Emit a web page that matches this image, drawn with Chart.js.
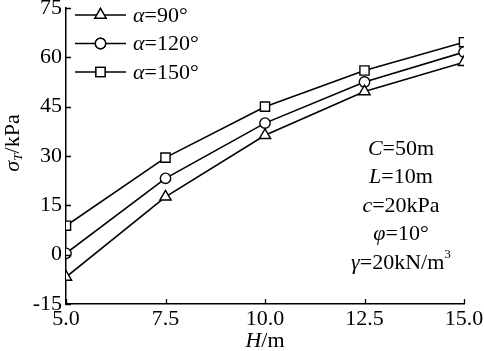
<!DOCTYPE html>
<html>
<head>
<meta charset="utf-8">
<script src="https://cdn.jsdelivr.net/npm/chart.js@4/dist/chart.umd.min.js"></script>
<style>
  html, body { margin: 0; padding: 0; background: #fff; }
  #wrap { width: 484px; height: 351px; position: relative; }
</style>
</head>
<body>
<div id="wrap"><canvas id="chart"></canvas></div>
<script>
const heights = [5.0, 7.5, 10.0, 12.5, 15.0];
const alpha90 = [-6.8, 17.6, 36.3, 49.6, 58.5];
const alpha120 = [0.4, 23.2, 40.0, 52.5, 61.6];
const alpha150 = [8.8, 29.5, 45.0, 56.0, 64.6];
const seriesNames = ['90°', '120°', '150°'];
const xTicks = [5.0, 7.5, 10.0, 12.5, 15.0];
const yTicks = [-15, 0, 15, 30, 45, 60, 75];
const notes = [
    ['C', '=50m'],
    ['L', '=10m'],
    ['c', '=20kPa'],
    ['φ', '=10°'],
    ['γ', '=20kN/m', '3']
];

const SERIF = '"Liberation Serif", "Times New Roman", serif';
const FS = 22;

function points(values) {
    return heights.map((h, i) => ({ x: h, y: values[i] }));
}

function makeSet(values, style, radius) {
    return {
        data: points(values),
        borderColor: '#000',
        borderWidth: 1.6,
        pointStyle: style,
        pointRadius: radius,
        pointBorderWidth: 1.4,
        pointBorderColor: '#000',
        pointBackgroundColor: '#fff',
        fill: false,
        tension: 0
    };
}

// draws the text pieces one after another, italic ones in italic
function drawParts(ctx, parts, x, y, size) {
    parts.forEach(p => {
        let fs = p.small ? size * 0.6 : size;
        ctx.font = (p.it ? 'italic ' : '') + fs + 'px ' + SERIF;
        let dy = p.sup ? -size * 0.38 : (p.sub ? size * 0.25 : 0);
        ctx.fillText(p.t, x, y + dy);
        x += ctx.measureText(p.t).width;
    });
}

function partsWidth(ctx, parts, size) {
    let w = 0;
    parts.forEach(p => {
        let fs = p.small ? size * 0.6 : size;
        ctx.font = (p.it ? 'italic ' : '') + fs + 'px ' + SERIF;
        w += ctx.measureText(p.t).width;
    });
    return w;
}

const extras = {
    id: 'extras',
    afterDraw(chart) {
        const ctx = chart.ctx;
        const xs = chart.scales.x;
        const ys = chart.scales.y;
        const area = chart.chartArea;
        ctx.save();
        ctx.strokeStyle = '#000';
        ctx.lineWidth = 1.3;

        // inward ticks
        ctx.beginPath();
        xTicks.forEach(v => {
            const px = Math.round(xs.getPixelForValue(v)) + 0.5;
            ctx.moveTo(px, area.bottom);
            ctx.lineTo(px, area.bottom - 5);
        });
        yTicks.forEach(v => {
            const py = Math.round(ys.getPixelForValue(v)) + 0.5;
            ctx.moveTo(area.left, py);
            ctx.lineTo(area.left + 5, py);
        });
        ctx.stroke();

        ctx.fillStyle = '#000';
        ctx.textBaseline = 'middle';
        ctx.textAlign = 'left';

        // legend
        const sets = chart.data.datasets;
        sets.forEach((ds, i) => {
            const y = 15 + i * 28.5;
            ctx.lineWidth = 1.6;
            ctx.beginPath();
            ctx.moveTo(75, y);
            ctx.lineTo(126, y);
            ctx.stroke();
            ctx.lineWidth = 1.4;
            Chart.helpers.drawPoint(ctx, {
                pointStyle: ds.pointStyle,
                radius: ds.pointRadius,
                rotation: 0,
                borderWidth: 1.4
            }, 100.5, y);
            ctx.fillStyle = '#fff';
            ctx.fill();
            ctx.stroke();
            ctx.fillStyle = '#000';
            drawParts(ctx, [{ t: 'α', it: true }, { t: '=' + seriesNames[i] }], 133, y + 1, FS);
        });

        // parameter notes
        notes.forEach((n, i) => {
            const parts = [{ t: n[0], it: true }, { t: n[1] }];
            if (n[2]) parts.push({ t: n[2], small: true, sup: true });
            const w = partsWidth(ctx, parts, FS);
            drawParts(ctx, parts, 401 - w / 2, 149 + i * 28.5, FS);
        });

        // axis titles
        const xt = [{ t: 'H', it: true }, { t: '/m' }];
        const xw = partsWidth(ctx, xt, FS);
        drawParts(ctx, xt, xs.getPixelForValue(10) - xw / 2, 341, FS);

        const yt = [{ t: 'σ', it: true }, { t: 'T', it: true, small: true, sub: true }, { t: '/kPa' }];
        ctx.translate(13, 143);
        ctx.rotate(-Math.PI / 2);
        const yw = partsWidth(ctx, yt, FS);
        drawParts(ctx, yt, -yw / 2, 0, FS);
        ctx.restore();
    }
};

new Chart(document.getElementById('chart'), {
    type: 'line',
    data: {
        datasets: [
            makeSet(alpha90, 'triangle', 6.5),
            makeSet(alpha120, 'circle', 5.2),
            makeSet(alpha150, 'rect', 6.5)
        ]
    },
    options: {
        responsive: true,
        maintainAspectRatio: false,
        animation: false,
        layout: { padding: { top: 8, right: 20, left: 0, bottom: 0 } },
        plugins: {
            legend: { display: false },
            tooltip: { enabled: false }
        },
        scales: {
            x: {
                type: 'linear',
                min: 5,
                max: 15,
                afterBuildTicks: s => { s.ticks = xTicks.map(v => ({ value: v })); },
                afterFit: s => { s.height = 47; s.paddingLeft = 0; s.paddingRight = 0; },
                grid: { display: false, drawTicks: false },
                border: { display: true, color: '#000', width: 1.5 },
                ticks: {
                    color: '#000',
                    padding: 2,
                    maxRotation: 0,
                    font: { family: SERIF, size: FS },
                    callback: v => Number(v).toFixed(1)
                }
            },
            y: {
                min: -15,
                max: 75,
                afterBuildTicks: s => { s.ticks = yTicks.map(v => ({ value: v })); },
                afterFit: s => { s.width = 66; s.paddingTop = 0; s.paddingBottom = 0; },
                grid: { display: false, drawTicks: false },
                border: { display: true, color: '#000', width: 1.5 },
                ticks: {
                    color: '#000',
                    padding: 4,
                    font: { family: SERIF, size: FS },
                    callback: v => String(v)
                }
            }
        }
    },
    plugins: [extras]
});
</script>
</body>
</html>
